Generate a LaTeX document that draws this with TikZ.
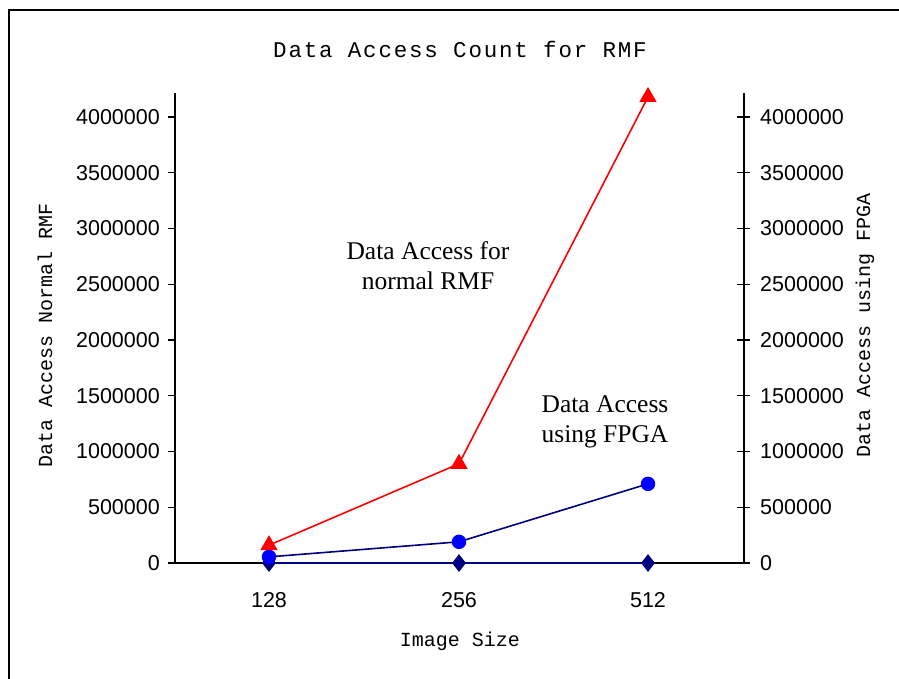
\documentclass[tikz,border=0pt]{standalone}
\usepackage{fontspec}
\setmainfont{Liberation Serif}
\setsansfont{Liberation Sans}
\setmonofont{Liberation Mono}
\usetikzlibrary{shapes.geometric}
\definecolor{navy}{RGB}{0,0,128}
\definecolor{pureblue}{RGB}{0,0,255}
\tikzset{
    %Define style for axis numbers
    ticklab/.style={
           font=\sffamily\fontsize{21.5}{21.5}\selectfont,
           inner sep=0pt},
    %Define style for axis titles
    axtitle/.style={
           font=\ttfamily\fontsize{20}{20}\selectfont,
           inner sep=0pt},
    %Define style for notes inside the plot
    note/.style={
           font=\rmfamily\fontsize{25.5}{30}\selectfont,
           align=center,
           inner sep=0pt},
    % Define series styles
    rmfline/.style={red, line width=1.6pt},
    fpgaline/.style={navy, line width=1.6pt},
    tri/.style={
           regular polygon,
           regular polygon sides=3,
           fill=red,
           minimum size=20pt,
           inner sep=0pt},
    dot/.style={
           circle,
           fill=pureblue,
           minimum size=14.5pt,
           inner sep=0pt},
    diam/.style={
           diamond,
           fill=navy,
           minimum width=14pt,
           minimum height=18pt,
           inner sep=0pt}
}
\begin{document}
\begin{tikzpicture}[x=1pt,y=-1pt]
  \useasboundingbox (0,0) rectangle (899,679);
  \clip (0,0) rectangle (899,679);
  \fill[white] (0,0) rectangle (899,679);
  \draw[line width=1.5pt] (9,720) |- (950,10);
  % title and axis titles
  \node[axtitle,font=\ttfamily\fontsize{22.5}{22.5}\selectfont\addfontfeature{LetterSpace=8}] (title) at (460,49) {Data Access Count for RMF};
  \node[axtitle,rotate=90] (ytitle) at (45,335) {Data Access Normal RMF};
  \node[axtitle,rotate=90] (y2title) at (865,325) {Data Access using FPGA};
  \node[axtitle] (xtitle) at (460,641) {Image Size};
  % axes
  \coordinate (ltop) at (175,93);
  \coordinate (lbot) at (175,563);
  \coordinate (rtop) at (744,93);
  \coordinate (rbot) at (744,563);
  \draw[line width=1.3pt] (ltop) -- (lbot) -- (rbot) -- (rtop);
  \begin{scope}[shift={(0,563)},y=11.15pt]
    \foreach \v/\lab in {0/0,5/500000,10/1000000,15/1500000,20/2000000,25/2500000,30/3000000,35/3500000,40/4000000}{
      \draw[line width=1.3pt] (168,\v) -- (175,\v);
      \draw[line width=1.3pt] (737,\v) -- (750,\v);
      \node[ticklab,anchor=east] (ll\v) at (160,\v) {\lab};
      \node[ticklab,anchor=west] (rl\v) at (760,\v) {\lab};
    }
    \foreach \x/\c in {269/128,459/256,648/512}
      \node[ticklab] (cat\c) at (\x,-3.3) {\c};
    % data points
    \coordinate (r1) at (269,1.6);
    \coordinate (r2) at (459,8.9);
    \coordinate (r3) at (648,41.8);
    \coordinate (f1) at (269,0.55);
    \coordinate (f2) at (459,1.9);
    \coordinate (f3) at (648,7.1);
    \coordinate (z1) at (269,0);
    \coordinate (z2) at (459,0);
    \coordinate (z3) at (648,0);
  \end{scope}
  % series
  \draw[rmfline] (r1) -- (r2) -- (r3);
  \draw[fpgaline] (f1) -- (f2) -- (f3);
  \draw[fpgaline,line width=2.2pt] (z1) -- (z2) -- (z3);
  \foreach \i in {1,2,3}{
    \node[diam] (zm\i) at (z\i) {};
    \node[dot] (fm\i) at (f\i) {};
    \node[tri] (rm\i) at (r\i) {};
  }
  % notes
  \node[note] (rmfnote) at (428,266) {Data Access for\\normal RMF};
  \node[note] (fpganote) at (605,422) {Data Access\\using FPGA};
\end{tikzpicture}
\end{document}
